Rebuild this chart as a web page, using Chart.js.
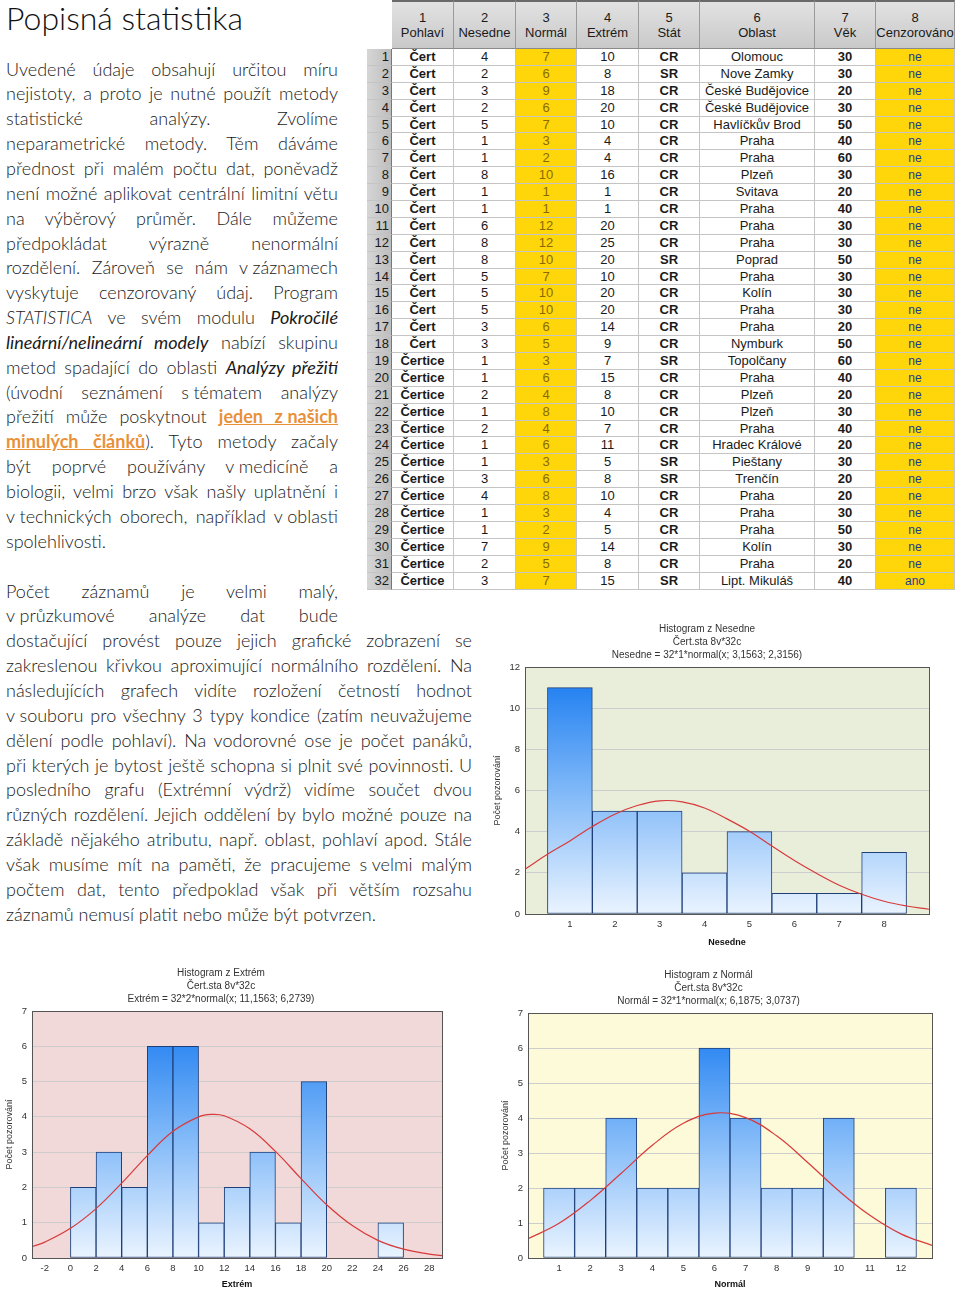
<!DOCTYPE html>
<html lang="cs">
<head>
<meta charset="utf-8">
<script src="https://cdn.jsdelivr.net/npm/chart.js@4.4.1/dist/chart.umd.min.js"></script>
<style>
body { margin: 0; width: 960px; height: 1292px; position: relative; background: #fff; overflow: hidden; }
h1 { position: absolute; left: 6px; top: -1px; margin: 0; font: 300 32px Lato, "Open Sans", sans-serif; line-height: 38px; color: #111; }
.txt { position: absolute; left: 6px; font-family: Lato, "Open Sans", sans-serif; font-weight: 300; font-size: 18px; color: #1a1a1a; }
.ln { height: 24.85px; line-height: 24.85px; text-align: justify; text-align-last: justify; overflow: hidden; }
.ln.last { text-align-last: left; }
.it { font-style: italic; }
.itb { font-style: italic; font-weight: 400; }
.lnk { color: #e8913a; font-weight: 700; text-decoration: underline; }
#tbl { position: absolute; left: 367px; top: 0; display: grid;
       grid-template-columns: 25px 62px 62px 61px 62px 61px 115px 61px 79px;
       grid-template-rows: 49px repeat(32, 16.9px);
       font: 13px "Liberation Sans", Arial, sans-serif; color: #1a1a1a; }
#tbl div { box-sizing: border-box; border-right: 1px solid #c4c4c4; border-bottom: 1px solid #c4c4c4;
           text-align: center; line-height: 16px; white-space: nowrap; overflow: hidden; }
#tbl .hd { background: linear-gradient(#e2e2e2, #c9c9c9); border-right: 1px solid #9a9a9a; border-bottom: 1px solid #8a8a8a;
           border-top: 2px solid #6a6a6a; padding-top: 8px; line-height: 15px; }
#tbl .corner { background: #fff; border: none; }
#tbl .rn { background: linear-gradient(90deg, #d6d6d6, #bdbdbd); text-align: right; padding-right: 2px; border-right: 1px solid #777; }
#tbl .b { font-weight: 700; }
#tbl .y { background: #ffd60a; color: #8a6a00; }
#tbl .c { background: #ffd60a; color: #1e3c8c; font-size: 12px; }
canvas { position: absolute; }
</style>
</head>
<body>
<h1>Popisná statistika</h1>

<div class="txt" style="top:56.6px; width:332px;">
<div class="ln">Uvedené údaje obsahují určitou míru</div>
<div class="ln">nejistoty, a proto je nutné použít metody</div>
<div class="ln">statistické analýzy. Zvolíme</div>
<div class="ln">neparametrické metody. Těm dáváme</div>
<div class="ln">přednost při malém počtu dat, poněvadž</div>
<div class="ln">není možné aplikovat centrální limitní větu</div>
<div class="ln">na výběrový průměr. Dále můžeme</div>
<div class="ln">předpokládat výrazně nenormální</div>
<div class="ln">rozdělení. Zároveň se nám v&#8239;záznamech</div>
<div class="ln">vyskytuje cenzorovaný údaj. Program</div>
<div class="ln"><span class="it">STATISTICA</span> ve svém modulu <span class="itb">Pokročilé</span></div>
<div class="ln"><span class="itb">lineární/nelineární modely</span> nabízí skupinu</div>
<div class="ln">metod spadající do oblasti <span class="itb">Analýzy přežití</span></div>
<div class="ln">(úvodní seznámení s&#8239;tématem analýzy</div>
<div class="ln">přežití může poskytnout <span class="lnk">jeden z&#8239;našich</span></div>
<div class="ln"><span class="lnk">minulých článků</span>). Tyto metody začaly</div>
<div class="ln">být poprvé používány v&#8239;medicíně a</div>
<div class="ln">biologii, velmi brzo však našly uplatnění i</div>
<div class="ln">v&#8239;technických oborech, například v&#8239;oblasti</div>
<div class="ln last">spolehlivosti.</div>
</div>

<div class="txt" style="top:578.6px; width:466px;">
<div class="ln" style="width:332px">Počet záznamů je velmi malý,</div>
<div class="ln" style="width:332px">v&#8239;průzkumové analýze dat bude</div>
<div class="ln">dostačující provést pouze jejich grafické zobrazení se</div>
<div class="ln">zakreslenou křivkou aproximující normálního rozdělení. Na</div>
<div class="ln">následujících grafech vidíte rozložení četností hodnot</div>
<div class="ln">v&#8239;souboru pro všechny 3 typy kondice (zatím neuvažujeme</div>
<div class="ln">dělení podle pohlaví). Na vodorovné ose je počet panáků,</div>
<div class="ln">při kterých je bytost ještě schopna si plnit své povinnosti. U</div>
<div class="ln">posledního grafu (Extrémní výdrž) vidíme součet dvou</div>
<div class="ln">různých rozdělení. Jejich oddělení by bylo možné pouze na</div>
<div class="ln">základě nějakého atributu, např. oblast, pohlaví apod. Stále</div>
<div class="ln">však musíme mít na paměti, že pracujeme s&#8239;velmi malým</div>
<div class="ln">počtem dat, tento předpoklad však při větším rozsahu</div>
<div class="ln last">záznamů nemusí platit nebo může být potvrzen.</div>
</div>

<div id="tbl"></div>

<canvas id="nesedneChart" width="475" height="335" style="left:485px; top:615px;"></canvas>
<canvas id="extremChart" width="480" height="332" style="left:0px; top:960px;"></canvas>
<canvas id="normalChart" width="475" height="332" style="left:485px; top:960px;"></canvas>

<script>
// table data (Cert.sta 8v*32c)
const headers = ['Pohlaví', 'Nesedne', 'Normál', 'Extrém', 'Stát', 'Oblast', 'Věk', 'Cenzorováno'];
const pohlavi = ['Čert', 'Čert', 'Čert', 'Čert', 'Čert', 'Čert', 'Čert', 'Čert', 'Čert', 'Čert', 'Čert', 'Čert',
                 'Čert', 'Čert', 'Čert', 'Čert', 'Čert', 'Čert', 'Čertice', 'Čertice', 'Čertice', 'Čertice',
                 'Čertice', 'Čertice', 'Čertice', 'Čertice', 'Čertice', 'Čertice', 'Čertice', 'Čertice', 'Čertice', 'Čertice'];
const nesedne = [4, 2, 3, 2, 5, 1, 1, 8, 1, 1, 6, 8, 8, 5, 5, 5, 3, 3, 1, 1, 2, 1, 2, 1, 1, 3, 4, 1, 1, 7, 2, 3];
const normal = [7, 6, 9, 6, 7, 3, 2, 10, 1, 1, 12, 12, 10, 7, 10, 10, 6, 5, 3, 6, 4, 8, 4, 6, 3, 6, 8, 3, 2, 9, 5, 7];
const extrem = [10, 8, 18, 20, 10, 4, 4, 16, 1, 1, 20, 25, 20, 10, 20, 20, 14, 9, 7, 15, 8, 10, 7, 11, 5, 8, 10, 4, 5, 14, 8, 15];
const stat = ['CR', 'SR', 'CR', 'CR', 'CR', 'CR', 'CR', 'CR', 'CR', 'CR', 'CR', 'CR', 'SR', 'CR', 'CR', 'CR',
              'CR', 'CR', 'SR', 'CR', 'CR', 'CR', 'CR', 'CR', 'SR', 'SR', 'CR', 'CR', 'CR', 'CR', 'CR', 'SR'];
const oblast = ['Olomouc', 'Nove Zamky', 'České Budějovice', 'České Budějovice', 'Havlíčkův Brod', 'Praha', 'Praha',
                'Plzeň', 'Svitava', 'Praha', 'Praha', 'Praha', 'Poprad', 'Praha', 'Kolín', 'Praha', 'Praha', 'Nymburk',
                'Topolčany', 'Praha', 'Plzeň', 'Plzeň', 'Praha', 'Hradec Králové', 'Pieštany', 'Trenčín', 'Praha',
                'Praha', 'Praha', 'Kolín', 'Praha', 'Lipt. Mikuláš'];
const vek = [30, 30, 20, 30, 50, 40, 60, 30, 20, 40, 30, 30, 50, 30, 30, 30, 20, 50, 60, 40, 20, 30, 40, 20, 30, 20, 20, 30, 50, 30, 20, 40];
const cenzorovano = ['ne', 'ne', 'ne', 'ne', 'ne', 'ne', 'ne', 'ne', 'ne', 'ne', 'ne', 'ne', 'ne', 'ne', 'ne', 'ne',
                     'ne', 'ne', 'ne', 'ne', 'ne', 'ne', 'ne', 'ne', 'ne', 'ne', 'ne', 'ne', 'ne', 'ne', 'ne', 'ano'];

// histogram Nesedne
const nesedneBins = [1, 2, 3, 4, 5, 6, 7, 8];
const nesedneCounts = [11, 5, 5, 2, 4, 1, 1, 3];
const nesedneCurveX = [0, 0.5, 1, 1.5, 2, 2.5, 3, 3.5, 4, 4.5, 5, 5.5, 6, 6.5, 7, 7.5, 8, 8.5, 9];
const nesedneCurveY = [2.18, 2.9, 3.55, 4.25, 4.85, 5.27, 5.5, 5.45, 5.15, 4.62, 4.02, 3.3, 2.6, 1.97, 1.4, 0.96, 0.62, 0.39, 0.23];
const nesedneXTicks = [1, 2, 3, 4, 5, 6, 7, 8];

// histogram Extrém
const extremBins = [1, 3, 5, 7, 9, 11, 13, 15, 17, 19, 21, 23, 25];
const extremCounts = [2, 3, 2, 6, 6, 1, 2, 3, 1, 5, 0, 0, 1];
const extremCurveX = [-3, -2, 0, 2, 4, 6, 8, 10, 11, 12, 14, 16, 18, 20, 22, 24, 26, 28, 29];
const extremCurveY = [0.32, 0.45, 0.84, 1.4, 2.12, 2.9, 3.59, 4.0, 4.07, 4.03, 3.66, 3.02, 2.25, 1.51, 0.92, 0.5, 0.25, 0.11, 0.07];
const extremXTicks = [-2, 0, 2, 4, 6, 8, 10, 12, 14, 16, 18, 20, 22, 24, 26, 28];

// histogram Normál
const normalBins = [1, 2, 3, 4, 5, 6, 7, 8, 9, 10, 11, 12];
const normalCounts = [2, 2, 4, 2, 2, 6, 4, 2, 2, 4, 0, 2];
const normalCurveX = [0, 1, 2, 3, 4, 5, 6, 7, 8, 9, 10, 11, 12, 13];
const normalCurveY = [0.55, 0.99, 1.64, 2.42, 3.22, 3.85, 4.14, 4.01, 3.49, 2.73, 1.92, 1.22, 0.69, 0.36];
const normalXTicks = [1, 2, 3, 4, 5, 6, 7, 8, 9, 10, 11, 12];

// build the spreadsheet
let tbl = document.getElementById('tbl');
function cell(text, cls) {
    let d = document.createElement('div');
    d.className = cls || '';
    d.innerHTML = text;
    tbl.appendChild(d);
}
cell('', 'corner');
headers.forEach((h, i) => cell((i + 1) + '<br>' + h, 'hd'));
for (let r = 0; r < pohlavi.length; r++) {
    cell(r + 1, 'rn');
    cell(pohlavi[r], 'b');
    cell(nesedne[r]);
    cell(normal[r], 'y');
    cell(extrem[r]);
    cell(stat[r], 'b');
    cell(oblast[r]);
    cell(vek[r], 'b');
    cell(cenzorovano[r], 'c');
}

// charts
const axisFont = { family: 'Liberation Sans', size: 9.5 };

const plotBg = {
    id: 'plotBg',
    beforeDraw(chart, args, opts) {
        let a = chart.chartArea;
        chart.ctx.save();
        chart.ctx.fillStyle = opts.color;
        chart.ctx.fillRect(a.left, a.top, a.right - a.left, a.bottom - a.top);
        chart.ctx.restore();
    },
    afterDraw(chart) {
        let a = chart.chartArea;
        let ctx = chart.ctx;
        ctx.save();
        ctx.strokeStyle = '#555';
        ctx.lineWidth = 1;
        ctx.strokeRect(Math.round(a.left) + 0.5, Math.round(a.top) + 0.5, Math.round(a.right - a.left), Math.round(a.bottom - a.top));
        ctx.restore();
    }
};

function barFill(ctx) {
    let a = ctx.chart.chartArea;
    if (!a) return '#7ab4f5';
    let g = ctx.chart.ctx.createLinearGradient(0, a.top, 0, a.bottom);
    g.addColorStop(0, '#1478f0');
    g.addColorStop(0.5, '#7fb8f8');
    g.addColorStop(1, '#eaf4ff');
    return g;
}

function histogram(id, s) {
    return new Chart(document.getElementById(id), {
        type: 'bar',
        data: {
            datasets: [{
                type: 'line',
                data: s.curveX.map((x, i) => ({ x: x, y: s.curveY[i] })),
                borderColor: '#d83a3a',
                borderWidth: 1.2,
                pointRadius: 0,
                tension: 0.4,
            }, {
                data: s.bins.map((x, i) => ({ x: x, y: s.counts[i] })),
                backgroundColor: barFill,
                borderColor: '#1f3f78',
                borderWidth: 1,
                borderSkipped: false,
                barPercentage: 1,
                categoryPercentage: 1,
            }]
        },
        options: {
            responsive: false,
            animation: false,
            layout: { padding: { left: 0, right: s.padRight, top: 0, bottom: 0 } },
            plugins: {
                legend: { display: false },
                tooltip: { enabled: false },
                plotBg: { color: s.bg },
                title: {
                    display: true,
                    text: s.title,
                    color: '#333',
                    font: { family: 'Liberation Sans', size: 10, weight: 'normal', lineHeight: 1.3 },
                    padding: { top: s.titleTop, bottom: 5 },
                },
            },
            scales: {
                x: {
                    type: 'linear',
                    min: s.xMin,
                    max: s.xMax,
                    offset: false,
                    grid: { display: false, drawTicks: false },
                    border: { display: false },
                    afterBuildTicks: scale => { scale.ticks = s.xTicks.map(v => ({ value: v })); },
                    afterFit: scale => { scale.height = s.xHeight; },
                    ticks: { color: '#333', font: axisFont, padding: 5, maxRotation: 0, autoSkip: false },
                    title: { display: true, text: s.xTitle, color: '#111', padding: 2,
                             font: { family: 'Liberation Sans', size: 9, weight: 'bold' } },
                },
                y: {
                    min: 0,
                    max: s.yMax,
                    grid: { color: '#cdcdcd', drawTicks: false },
                    border: { display: false },
                    afterFit: scale => { scale.width = s.yWidth; },
                    ticks: { stepSize: s.yStep, color: '#333', font: axisFont, padding: 5 },
                    title: { display: true, text: 'Počet pozorování', color: '#333', padding: { top: s.yTitlePad, bottom: 0 },
                             font: { family: 'Liberation Sans', size: 9 } },
                },
            },
        },
        plugins: [plotBg],
    });
}

// Nesedne histogram
let nesedneChart = histogram('nesedneChart', {
    bins: nesedneBins, counts: nesedneCounts, curveX: nesedneCurveX, curveY: nesedneCurveY,
    xTicks: nesedneXTicks, xMin: 0, xMax: 9, yMax: 12, yStep: 2,
    title: ['Histogram z Nesedne', 'Čert.sta 8v*32c', 'Nesedne = 32*1*normal(x; 3,1563; 2,3156)'],
    xTitle: 'Nesedne', bg: '#e9eedb',
    yWidth: 40, padRight: 31, xHeight: 36, titleTop: 8, yTitlePad: 7,
});

// Extrém histogram
let extremChart = histogram('extremChart', {
    bins: extremBins, counts: extremCounts, curveX: extremCurveX, curveY: extremCurveY,
    xTicks: extremXTicks, xMin: -3, xMax: 29, yMax: 7, yStep: 1,
    title: ['Histogram z Extrém', 'Čert.sta 8v*32c', 'Extrém = 32*2*normal(x; 11,1563; 6,2739)'],
    xTitle: 'Extrém', bg: '#f1d9d9',
    yWidth: 32, padRight: 38, xHeight: 34, titleTop: 7, yTitlePad: 4,
});

// Normál histogram
let normalChart = histogram('normalChart', {
    bins: normalBins, counts: normalCounts, curveX: normalCurveX, curveY: normalCurveY,
    xTicks: normalXTicks, xMin: 0, xMax: 13, yMax: 7, yStep: 1,
    title: ['Histogram z Normál', 'Čert.sta 8v*32c', 'Normál = 32*1*normal(x; 6,1875; 3,0737)'],
    xTitle: 'Normál', bg: '#fcfad9',
    yWidth: 43, padRight: 28, xHeight: 34, titleTop: 9, yTitlePad: 15,
});
</script>
</body>
</html>
